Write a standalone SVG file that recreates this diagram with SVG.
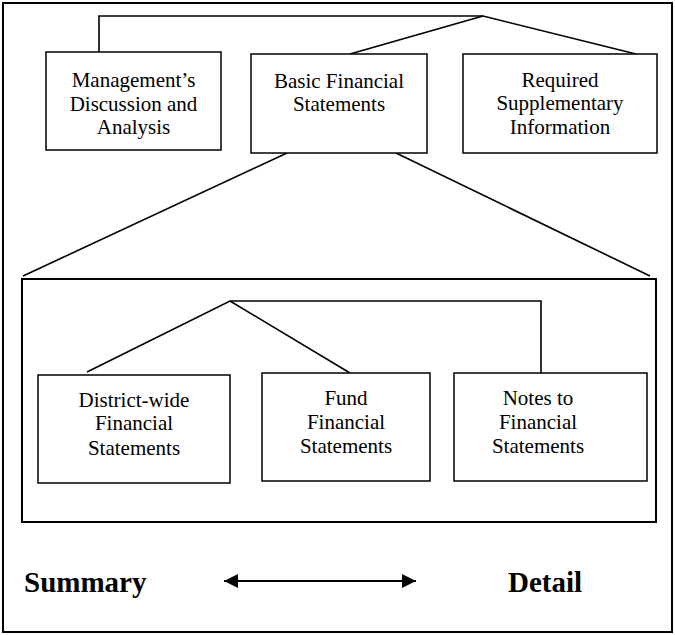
<svg xmlns="http://www.w3.org/2000/svg" width="675" height="635" viewBox="0 0 675 635">
<defs>
<style>
.box{fill:#fff;stroke:#000;stroke-width:1.5}
.con{fill:none;stroke:#000;stroke-width:1.6}
.t{font-family:"Liberation Serif","Times New Roman",serif;font-size:21px;text-anchor:middle;fill:#000}
.b{font-family:"Liberation Serif","Times New Roman",serif;font-size:29px;font-weight:bold;fill:#000}
</style>
<marker id="ah" viewBox="0 0 14 14" refX="14" refY="7" markerWidth="14" markerHeight="14" markerUnits="userSpaceOnUse" orient="auto-start-reverse">
<path d="M0,0 L14,7 L0,14 Z" fill="#000"/>
</marker>
</defs>
<rect x="3" y="3" width="669" height="629" fill="#fff" stroke="#000" stroke-width="2"/>
<g id="connectors">
<polyline class="con" points="99,52 99,16 483,16"/>
<line class="con" x1="483" y1="16" x2="350" y2="54"/>
<line class="con" x1="483" y1="16" x2="636" y2="54"/>
<line class="con" x1="287" y1="153" x2="23" y2="276"/>
<line class="con" x1="396" y1="153" x2="650" y2="276"/>
<polyline class="con" points="87,372 230,301 541,301 541,373"/>
<line class="con" x1="230" y1="301" x2="350" y2="373"/>
<line x1="224" y1="581" x2="416" y2="581" stroke="#000" stroke-width="2" marker-start="url(#ah)" marker-end="url(#ah)"/>
</g>
<g id="mdna">
<rect class="box" x="46" y="52" width="175" height="98"/>
<text class="t" x="133.5" y="87">Management’s</text>
<text class="t" x="133.5" y="110.5">Discussion and</text>
<text class="t" x="133.5" y="134">Analysis</text>
</g>
<g id="bfs">
<rect class="box" x="251" y="54" width="176" height="99"/>
<text class="t" x="339" y="88">Basic Financial</text>
<text class="t" x="339" y="111">Statements</text>
</g>
<g id="rsi">
<rect class="box" x="463" y="54" width="194" height="99"/>
<text class="t" x="560" y="87">Required</text>
<text class="t" x="560" y="110">Supplementary</text>
<text class="t" x="560" y="133.5">Information</text>
</g>
<g id="container">
<rect x="22" y="279" width="634" height="243" fill="none" stroke="#000" stroke-width="2"/>
</g>
<g id="district">
<rect class="box" x="38" y="375" width="192" height="108"/>
<text class="t" x="134" y="407">District-wide</text>
<text class="t" x="134" y="430">Financial</text>
<text class="t" x="134" y="454.5">Statements</text>
</g>
<g id="fund">
<rect class="box" x="262" y="373" width="168" height="108"/>
<text class="t" x="346" y="405">Fund</text>
<text class="t" x="346" y="429">Financial</text>
<text class="t" x="346" y="453">Statements</text>
</g>
<g id="notes">
<rect class="box" x="454" y="373" width="193" height="108"/>
<text class="t" x="538" y="405">Notes to</text>
<text class="t" x="538" y="429">Financial</text>
<text class="t" x="538" y="453">Statements</text>
</g>
<g id="legend">
<text class="b" x="24" y="592">Summary</text>
<text class="b" x="508" y="592">Detail</text>
</g>
</svg>
